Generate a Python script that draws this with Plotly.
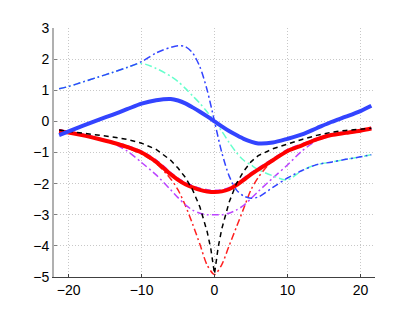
import plotly.graph_objects as go

# common x grid
x = [-21.3, -20, -18, -16, -14, -12, -10, -8, -6, -5, -4, -3, -2, -1, 0,
     1, 2, 3, 4, 5, 6, 8, 10, 12, 14, 16, 18, 20, 21.5]

blue_solid = [-0.44, -0.32, -0.14, 0.04, 0.21, 0.39, 0.57, 0.68, 0.72, 0.67, 0.58, 0.45, 0.31, 0.16, 0.0,
              -0.16, -0.31, -0.44, -0.56, -0.65, -0.71, -0.68, -0.56, -0.42, -0.22, -0.02, 0.15, 0.33, 0.5]

blue_dashdot = [1.05, 1.12, 1.27, 1.42, 1.57, 1.73, 1.92, 2.2, 2.38, 2.43, 2.4, 2.2, 1.75, 1.0, 0.0,
                -1.0, -1.75, -2.2, -2.4, -2.47, -2.43, -2.12, -1.82, -1.58, -1.39, -1.31, -1.22, -1.14, -1.07]

aqua_dashdot = [1.05, 1.12, 1.27, 1.42, 1.57, 1.73, 1.86, 1.7, 1.45, 1.28, 1.06, 0.82, 0.58, 0.3, 0.0,
                -0.32, -0.68, -1.0, -1.25, -1.4, -1.55, -1.75, -1.88, -1.58, -1.39, -1.31, -1.22, -1.14, -1.07]

red_dashdot = [-0.28, -0.34, -0.45, -0.57, -0.7, -0.85, -1.05, -1.35, -1.85, -2.2, -2.7, -3.3, -3.95, -4.62, -4.92,
               -4.6, -4.0, -3.4, -2.8, -2.2, -1.8, -1.25, -0.95, -0.75, -0.58, -0.45, -0.37, -0.3, -0.25]

purple_dashdot = [-0.28, -0.33, -0.42, -0.55, -0.7, -0.95, -1.32, -1.72, -2.2, -2.45, -2.68, -2.85, -2.95, -3.0, -3.0,
                  -3.0, -2.95, -2.85, -2.7, -2.48, -2.25, -1.82, -1.4, -0.95, -0.62, -0.47, -0.38, -0.3, -0.24]

red_solid = [-0.32, -0.36, -0.45, -0.56, -0.68, -0.82, -1.0, -1.3, -1.7, -1.88, -2.02, -2.12, -2.2, -2.25, -2.27,
             -2.25, -2.18, -2.05, -1.88, -1.7, -1.55, -1.25, -0.95, -0.77, -0.58, -0.44, -0.37, -0.3, -0.23]

purple_dashed = [-0.3, -0.35, -0.44, -0.55, -0.67, -0.8, -0.98, -1.27, -1.67, -1.85, -1.99, -2.09, -2.17, -2.22, -2.24,
                 -2.22, -2.15, -2.02, -1.85, -1.68, -1.52, -1.23, -0.93, -0.75, -0.57, -0.43, -0.36, -0.29, -0.22]

# black dashed (cusp at 0)
x_black = [-21.3, -20, -18, -16, -14, -12, -10, -8, -6, -5, -4, -3, -2, -1, -0.5, 0,
           0.5, 1, 2, 3, 4, 5, 6, 8, 10, 12, 14, 16, 18, 20, 21.5]
black_dashed = [-0.28, -0.32, -0.38, -0.43, -0.5, -0.58, -0.7, -0.9, -1.25, -1.5, -1.8, -2.2, -2.75, -3.55, -4.1, -4.9,
                -4.05, -3.45, -2.6, -2.0, -1.6, -1.3, -1.1, -0.88, -0.72, -0.58, -0.45, -0.35, -0.29, -0.25, -0.22]

x_ticks = [-20, -10, 0, 10, 20]
y_ticks = [-5, -4, -3, -2, -1, 0, 1, 2, 3]

fig = go.Figure()

def add(xv, yv, color, width, dash, shape="spline"):
    fig.add_trace(go.Scatter(x=xv, y=yv, mode="lines",
                             line=dict(color=color, width=width, dash=dash, shape=shape, smoothing=0.8),
                             showlegend=False, hoverinfo="skip"))

add(x, purple_dashed, "#bb44ff", 3, "6px,4px")
add(x, red_dashdot, "#ff2020", 1.5, "7px,3px,2px,3px")
add(x, purple_dashdot, "#bb44ff", 1.5, "7px,3px,2px,3px")
add(x, aqua_dashdot, "#66ffcc", 1.5, "7px,3px,2px,3px")
add(x, blue_dashdot, "#3344ff", 1.5, "7px,3px,2px,3px")
add(x, red_solid, "#ff0000", 4, "solid")
add(x_black, black_dashed, "#000000", 1.5, "5px,4px", shape="linear")
add(x, blue_solid, "#3344ff", 4, "solid")

axis_font = dict(family="Liberation Sans, Arial, sans-serif", size=14, color="#000000")

def lab(v):
    return ("\u2212" + str(-v)) if v < 0 else str(v)

# page body has an 8px margin, so the figure is sized to land the plot area where the reference has it
fig.update_layout(
    width=407, height=304,
    margin=dict(l=46, r=40, t=15, b=35),
    paper_bgcolor="white", plot_bgcolor="white",
    xaxis=dict(range=[-22, 22], tickvals=x_ticks, ticktext=[lab(v) for v in x_ticks],
               showgrid=True, gridcolor="#c8c8c8", griddash="1px,2px", gridwidth=1,
               zeroline=False, showline=True, linecolor="#404040", linewidth=1,
               ticks="inside", ticklen=3, tickcolor="#404040", tickfont=axis_font),
    yaxis=dict(range=[-5, 3], tickvals=y_ticks, ticktext=[lab(v) for v in y_ticks],
               showgrid=True, gridcolor="#c8c8c8", griddash="1px,2px", gridwidth=1,
               zeroline=False, showline=True, linecolor="#b0b0b0", linewidth=2,
               ticks="inside", ticklen=3, tickcolor="#808080", tickfont=axis_font),
)

fig.write_html("out.html")
